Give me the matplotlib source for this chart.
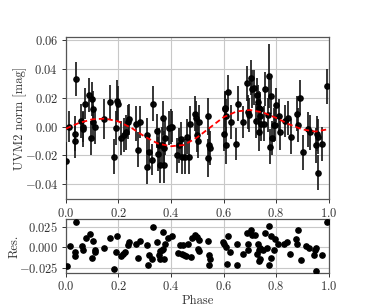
import matplotlib
matplotlib.use("Agg")
import matplotlib.pyplot as plt
import numpy as np

plt.rcParams.update({
    "font.family": "serif",
    "font.serif": ["cmr10", "DejaVu Serif"],
    "mathtext.fontset": "cm",
    "axes.formatter.use_mathtext": True,
    "font.size": 9,
    "axes.unicode_minus": True,
})

# ---- data ----
phase = [0.000, 0.012, 0.033, 0.035, 0.038, 0.059, 0.064, 0.067, 0.074, 0.089,
         0.095, 0.101, 0.103, 0.105, 0.109, 0.144, 0.167, 0.183, 0.189, 0.194,
         0.200, 0.211, 0.220, 0.229, 0.236, 0.242, 0.266, 0.274, 0.282, 0.307,
         0.310, 0.317, 0.326, 0.332, 0.347, 0.352, 0.355, 0.358, 0.364, 0.369,
         0.372, 0.374, 0.378, 0.394, 0.400, 0.404, 0.424, 0.432, 0.437, 0.441,
         0.454, 0.460, 0.469, 0.474, 0.491, 0.497, 0.499, 0.502, 0.505, 0.541,
         0.542, 0.546, 0.548, 0.600, 0.604, 0.607, 0.608, 0.610, 0.616, 0.627,
         0.646, 0.654, 0.674, 0.689, 0.694, 0.696, 0.704, 0.708, 0.714, 0.724,
         0.727, 0.730, 0.733, 0.734, 0.737, 0.739, 0.742, 0.755, 0.756, 0.769,
         0.774, 0.776, 0.779, 0.785, 0.792, 0.796, 0.800, 0.811, 0.813, 0.835,
         0.846, 0.857, 0.880, 0.885, 0.890, 0.902, 0.920, 0.930, 0.950, 0.956,
         0.958, 0.960, 0.976, 0.994]
mag = [-0.024, 0.000, -0.010, -0.005, 0.033, 0.004, 0.000, -0.002, 0.016, 0.022,
       -0.008, 0.019, 0.012, 0.003, 0.000, 0.005, 0.017, -0.021, -0.001, 0.018,
       0.016, -0.008, -0.006, -0.004, 0.003, 0.005, 0.002, -0.016, 0.003, -0.006,
       -0.028, -0.018, -0.023, 0.016, -0.003, -0.019, -0.013, -0.027, -0.013, 0.006,
       -0.015, -0.027, -0.008, -0.001, 0.000, 0.000, -0.020, -0.013, -0.009, -0.021,
       -0.021, -0.007, -0.021, 0.002, 0.009, 0.006, -0.006, -0.010, 0.003, 0.007,
       -0.022, -0.013, -0.015, -0.005, 0.012, 0.013, -0.013, 0.007, 0.024, 0.003,
       -0.012, 0.016, 0.003, 0.030, 0.010, 0.008, 0.034, 0.026, 0.027, 0.004,
       0.022, 0.017, 0.013, -0.004, 0.012, 0.007, 0.002, 0.002, 0.026, 0.008,
       0.035, -0.014, 0.021, -0.008, 0.001, 0.001, 0.015, 0.007, -0.004, 0.004,
       0.006, -0.007, 0.009, 0.001, 0.020, -0.018, -0.002, -0.004, -0.013, -0.005,
       -0.032, -0.007, -0.012, 0.028]
mag_err = [0.013, 0.011, 0.012, 0.012, 0.012, 0.012, 0.011, 0.012, 0.011, 0.012,
           0.012, 0.012, 0.013, 0.012, 0.012, 0.014, 0.012, 0.012, 0.012, 0.014,
           0.012, 0.012, 0.012, 0.012, 0.012, 0.011, 0.012, 0.012, 0.011, 0.012,
           0.012, 0.012, 0.011, 0.012, 0.012, 0.012, 0.012, 0.012, 0.013, 0.012,
           0.012, 0.012, 0.012, 0.012, 0.012, 0.011, 0.012, 0.012, 0.012, 0.012,
           0.012, 0.012, 0.012, 0.012, 0.012, 0.012, 0.012, 0.012, 0.012, 0.013,
           0.013, 0.012, 0.012, 0.012, 0.012, 0.012, 0.013, 0.012, 0.012, 0.012,
           0.011, 0.012, 0.011, 0.012, 0.012, 0.012, 0.012, 0.013, 0.012, 0.012,
           0.012, 0.012, 0.012, 0.013, 0.012, 0.012, 0.012, 0.012, 0.012, 0.012,
           0.022, 0.012, 0.012, 0.012, 0.012, 0.011, 0.012, 0.012, 0.012, 0.011,
           0.012, 0.012, 0.012, 0.012, 0.012, 0.012, 0.012, 0.012, 0.012, 0.012,
           0.012, 0.012, 0.012, 0.012]

model_phase = [0.00, 0.05, 0.10, 0.15, 0.20, 0.25, 0.30, 0.35, 0.40, 0.45, 0.50,
               0.55, 0.60, 0.65, 0.70, 0.75, 0.80, 0.85, 0.90, 0.95, 1.00]
model_mag = [-0.0015, 0.0025, 0.0050, 0.0055, 0.0035, -0.0010, -0.0070, -0.0118,
             -0.0137, -0.0128, -0.0075, -0.0005, 0.0065, 0.0105, 0.0115, 0.0098,
             0.0060, 0.0015, -0.0020, -0.0035, -0.0018]

res_phase = [0.003, 0.014, 0.034, 0.034, 0.037, 0.061, 0.067, 0.075, 0.090, 0.098,
             0.105, 0.109, 0.112, 0.144, 0.166, 0.183, 0.189, 0.196, 0.209, 0.218,
             0.226, 0.236, 0.242, 0.267, 0.274, 0.281, 0.308, 0.311, 0.318, 0.327,
             0.332, 0.347, 0.354, 0.359, 0.360, 0.364, 0.369, 0.371, 0.374, 0.378,
             0.389, 0.403, 0.428, 0.435, 0.441, 0.445, 0.451, 0.458, 0.466, 0.475,
             0.479, 0.493, 0.498, 0.504, 0.506, 0.508, 0.542, 0.544, 0.546, 0.549,
             0.599, 0.602, 0.610, 0.612, 0.616, 0.625, 0.652, 0.650, 0.674, 0.690,
             0.693, 0.694, 0.705, 0.708, 0.721, 0.728, 0.731, 0.733, 0.734, 0.740,
             0.740, 0.752, 0.756, 0.764, 0.772, 0.773, 0.781, 0.782, 0.791, 0.797,
             0.806, 0.829, 0.842, 0.854, 0.876, 0.880, 0.884, 0.896, 0.915, 0.925,
             0.943, 0.947, 0.951, 0.951, 0.973, 0.995]
res = [-0.023, 0.001, -0.006, -0.011, 0.031, 0.001, -0.004, 0.011, 0.016, -0.013,
       0.007, -0.003, -0.006, -0.001, 0.011, -0.026, -0.006, 0.013, -0.011, -0.008,
       -0.006, 0.003, 0.006, 0.004, -0.013, 0.007, 0.002, -0.022, -0.010, -0.015,
       0.025, 0.006, -0.009, -0.005, -0.015, -0.003, 0.018, -0.002, -0.015, 0.004,
       0.011, 0.013, -0.007, 0.002, -0.008, 0.002, -0.009, -0.011, 0.004, -0.012,
       0.011, 0.015, 0.012, -0.002, -0.005, 0.009, 0.007, -0.022, -0.010, -0.014,
       0.006, 0.004, 0.000, -0.021, 0.014, -0.006, 0.004, -0.022, -0.008, 0.017,
       -0.004, 0.004, 0.021, 0.015, 0.015, -0.008, 0.004, -0.017, -0.004, -0.001,
       -0.014, -0.004, 0.017, -0.001, -0.022, 0.026, 0.014, -0.013, -0.004, 0.010,
       0.004, 0.004, 0.006, -0.008, 0.010, 0.004, 0.021, -0.016, 0.001, -0.001,
       -0.009, -0.004, -0.001, -0.029, -0.009, 0.030]

# ---- figure ----
fig = plt.figure(figsize=(3.66, 3.07), dpi=100)
ax = fig.add_axes([0.180, 0.351, 0.718, 0.529])
axr = fig.add_axes([0.180, 0.112, 0.718, 0.174])

for a in (ax, axr):
    a.grid(True, color="#c8c8c8", linewidth=0.8)
    a.set_axisbelow(True)
    for s in a.spines.values():
        s.set_color("#555555")
        s.set_linewidth(0.9)
    a.tick_params(colors="#333333", length=3, width=0.7, labelsize=9, pad=2.5)
    a.set_xlim(0, 1)
    a.set_xticks([0.0, 0.2, 0.4, 0.6, 0.8, 1.0])

ax.errorbar(phase, mag, yerr=mag_err, fmt="o", color="black", ms=3.8,
            ecolor="#1a1a1a", elinewidth=1.3, capsize=0, alpha=0.95, zorder=3)
ax.plot(model_phase, model_mag, "--", color="red", lw=1.3, dashes=(3, 1.8), zorder=4)
ax.set_ylim(-0.0505, 0.0623)
ax.set_yticks([-0.04, -0.02, 0.00, 0.02, 0.04, 0.06])
ax.set_ylabel("UVM2 norm [mag]", color="#333333")
ax.yaxis.set_label_coords(-0.148, 0.5)

axr.plot(res_phase, res, "o", color="black", ms=3.8, zorder=3)
axr.set_ylim(-0.031, 0.034)
axr.set_yticks([-0.025, 0.0, 0.025])
axr.set_ylabel("Res.", color="#333333")
axr.yaxis.set_label_coords(-0.172, 0.5)
axr.set_xlabel("Phase", color="#333333", labelpad=1)

fig.savefig("out.png", dpi=100)
